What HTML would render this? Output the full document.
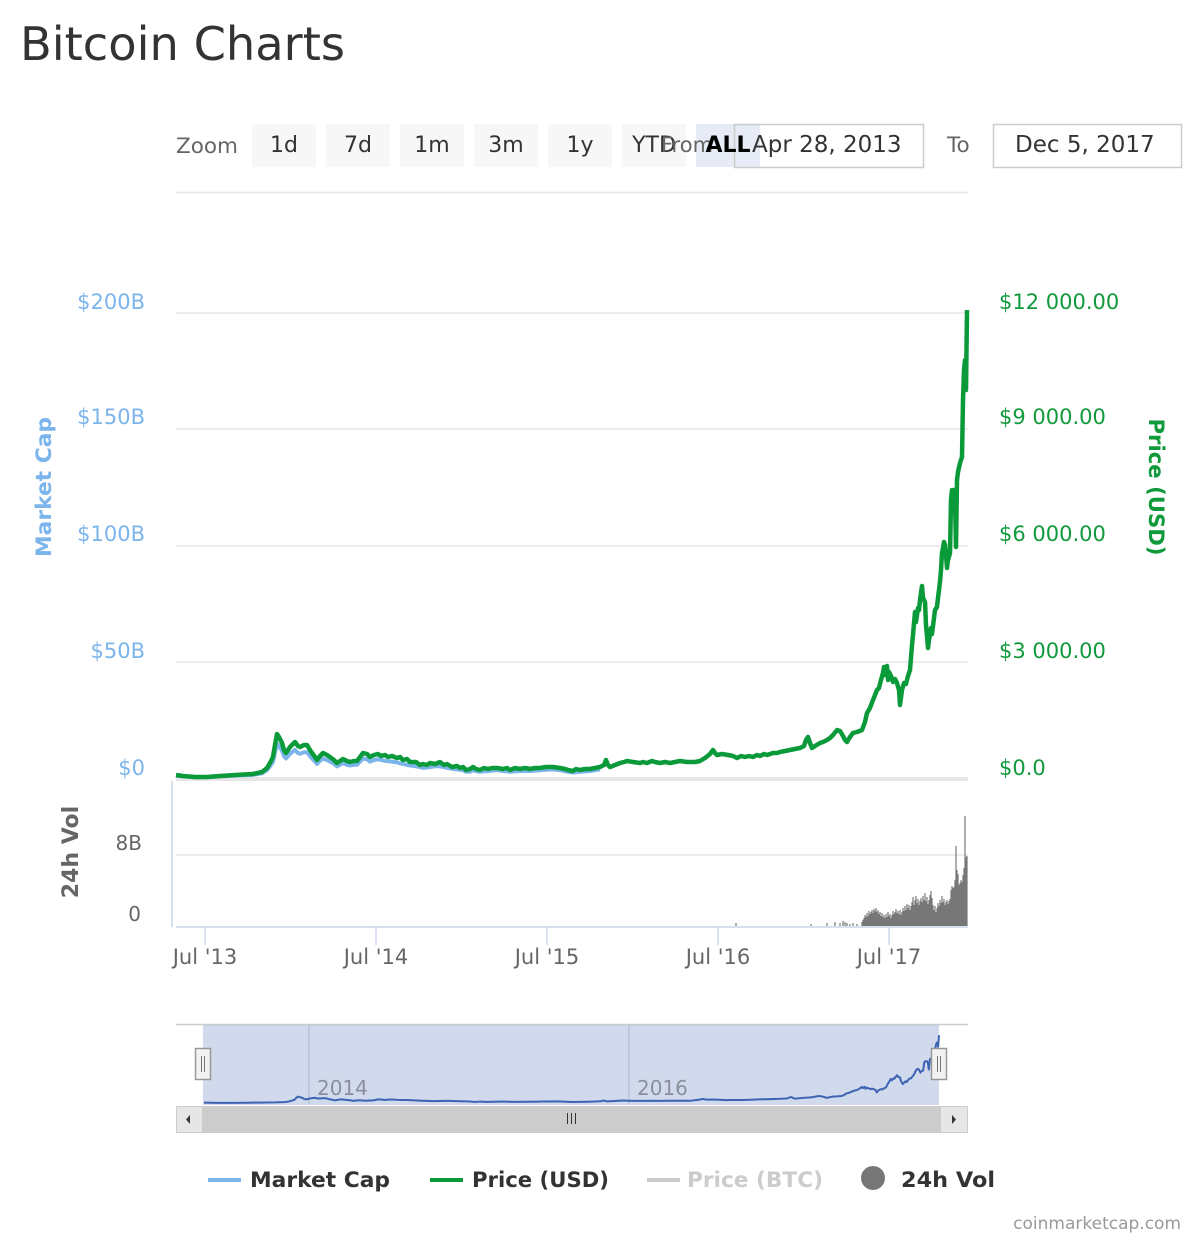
<!DOCTYPE html>
<html>
<head>
<meta charset="utf-8">
<style>
  html,body{margin:0;padding:0;background:#fff;}
  svg{display:block;}
  text{font-family:"DejaVu Sans","Liberation Sans",sans-serif;}
</style>
</head>
<body>
<svg width="1200" height="1240" viewBox="0 0 1200 1240" xmlns="http://www.w3.org/2000/svg">
  <rect x="0" y="0" width="1200" height="1240" fill="#fff"/>

  <!-- Title -->
  <text x="20" y="60" font-size="46" fill="#333" textLength="325" lengthAdjust="spacingAndGlyphs">Bitcoin Charts</text>

  <!-- Toolbar -->
  <text x="176" y="153" font-size="21.5" fill="#666">Zoom</text>
  <g font-size="22" fill="#333" text-anchor="middle">
    <rect x="252" y="124" width="64" height="43" fill="#f7f7f7"/>
    <text x="284" y="152">1d</text>
    <rect x="326" y="124" width="64" height="43" fill="#f7f7f7"/>
    <text x="358" y="152">7d</text>
    <rect x="400" y="124" width="64" height="43" fill="#f7f7f7"/>
    <text x="432" y="152">1m</text>
    <rect x="474" y="124" width="64" height="43" fill="#f7f7f7"/>
    <text x="506" y="152">3m</text>
    <rect x="548" y="124" width="64" height="43" fill="#f7f7f7"/>
    <text x="580" y="152">1y</text>
    <rect x="622" y="124" width="64" height="43" fill="#f7f7f7"/>
    <text x="654" y="152">YTD</text>
    <rect x="696" y="124" width="64" height="43" fill="#e6ebf5"/>
  </g>
  <text x="661" y="152" font-size="21" fill="#666">From</text>
  <rect x="734.5" y="124.5" width="189" height="43" fill="none" stroke="#cccccc" stroke-width="1.5"/>
  <text x="728" y="152" font-size="22" font-weight="bold" fill="#000" text-anchor="middle">ALL</text>
  <text x="752" y="152" font-size="23" fill="#333">Apr 28, 2013</text>
  <text x="947" y="152" font-size="21.5" fill="#666">To</text>
  <rect x="993.5" y="124.5" width="188" height="43" fill="#fff" stroke="#cccccc" stroke-width="1.5"/>
  <text x="1015" y="152" font-size="23" fill="#333">Dec 5, 2017</text>

  <!-- top line -->
  <line x1="176" y1="192.5" x2="968" y2="192.5" stroke="#e6e6e6" stroke-width="1.5"/>

  <!-- grid lines main -->
  <g stroke="#e6e6e6" stroke-width="1.5">
    <line x1="176" y1="313" x2="968" y2="313"/>
    <line x1="176" y1="429" x2="968" y2="429"/>
    <line x1="176" y1="546" x2="968" y2="546"/>
    <line x1="176" y1="662" x2="968" y2="662"/>
  </g>
  <rect x="176" y="777" width="792" height="4" fill="#e6e6e6"/>

  <!-- left axis labels -->
  <g font-size="21" fill="#7cb5ec" text-anchor="end">
    <text x="145" y="309">$200B</text>
    <text x="145" y="424">$150B</text>
    <text x="145" y="541">$100B</text>
    <text x="145" y="658">$50B</text>
    <text x="145" y="775">$0</text>
  </g>
  <text transform="translate(51,487) rotate(-90)" font-size="21" font-weight="bold" fill="#7cb5ec" text-anchor="middle" textLength="140" lengthAdjust="spacingAndGlyphs">Market Cap</text>

  <!-- right axis labels -->
  <g font-size="21" fill="#109a3c">
    <text x="999" y="309">$12 000.00</text>
    <text x="999" y="424">$9 000.00</text>
    <text x="999" y="541">$6 000.00</text>
    <text x="999" y="658">$3 000.00</text>
    <text x="999" y="775">$0.0</text>
  </g>
  <text transform="translate(1149,487) rotate(90)" font-size="21" font-weight="bold" fill="#109a3c" text-anchor="middle" textLength="137" lengthAdjust="spacingAndGlyphs">Price (USD)</text>

  <!-- Market cap (blue) early section -->
  <path transform="translate(0,778) scale(1,0.78) translate(0,-778)" vector-effect="non-scaling-stroke" fill="none" stroke="#7cb5ec" stroke-width="4" stroke-linejoin="round"
    d="M176,775 L183,776 L195,777 L207,777 L220,776 L235,775 L253,774 L262,772 L267,768 L270,763 L273,757 L275,745 L277,734 L279,737 L282,743 L284,750 L286,753 L290,747 L295,742 L298,746 L300,747 L304,745 L307,745 L310,750 L312,753 L315,757 L317,760 L320,756 L323,753 L327,755 L330,757 L334,760 L337,763 L340,761 L343,759 L347,761 L350,762 L354,761 L357,761 L360,757 L363,753 L367,754 L370,757 L374,755 L378,754 L385,756 L392,757 L397,758 L403,760 L410,762 L416,763 L423,765 L430,764 L435,763 L440,763 L447,765 L452,766 L457,767 L463,768 L466,770 L470,770 L473,768 L476,769 L480,770 L488,769 L497,768 L503,769 L510,770 L520,769 L530,769 L540,768 L553,767 L560,768 L568,770 L573,771 L580,770 L590,769 L600,767"/>

  <!-- Price (green) -->
  <path fill="none" stroke="#0b9a3a" stroke-width="4.5" stroke-linejoin="round"
    d="M176,775 L183,776 L195,777 L207,777 L220,776 L235,775 L253,774 L262,772 L267,768 L270,763 L273,757 L275,745 L277,734 L279,737 L282,743 L284,750 L286,753 L290,747 L295,742 L298,746 L300,747 L304,745 L307,745 L310,750 L312,753 L315,757 L317,760 L320,756 L323,753 L327,755 L330,757 L334,760 L337,763 L340,761 L343,759 L347,761 L350,762 L354,761 L357,761 L360,757 L363,753 L367,754 L370,757 L374,755 L378,754 L381,756 L385,755 L388,757 L392,756 L397,758 L400,757 L403,760 L407,759 L410,762 L416,762 L420,765 L423,764 L427,765 L430,763 L435,764 L440,762 L444,765 L447,764 L452,767 L457,766 L460,768 L463,767 L466,770 L470,769 L473,767 L476,769 L480,770 L484,768 L488,769 L492,768 L497,768 L503,769 L507,768 L510,770 L515,768 L520,769 L525,768 L530,769 L535,768 L540,768 L546,767 L553,767 L560,768 L565,769 L568,770 L573,771 L576,769 L580,770 L585,769 L590,769 L595,768 L600,767 L604,765 L606,760 L608,765 L610,767 L615,765 L620,763 L624,762 L627,761 L633,762 L640,763 L643,762 L647,763 L652,761 L655,762 L660,763 L665,762 L670,763 L675,762 L680,761 L687,762 L695,762 L700,761 L705,758 L710,754 L713,750 L715,753 L717,755 L722,754 L728,755 L733,756 L737,758 L741,756 L745,757 L749,756 L753,757 L757,755 L760,756 L764,754 L767,755 L773,753 L777,753 L780,752 L785,751 L790,750 L795,749 L800,748 L804,746 L806,740 L808,737 L810,743 L812,748 L815,746 L820,743 L823,742 L827,740 L830,738 L833,735 L837,730 L840,731 L843,736 L845,740 L847,742 L850,737 L853,733 L857,732 L862,730 L865,722 L867,713 L870,708 L873,700 L875,695 L877,690 L879,688 L881,680 L883,673 L884,667 L885,675 L887,666 L888,680 L889,672 L891,676 L893,682 L895,679 L897,683 L899,690 L900,705 L902,690 L904,683 L906,684 L908,676 L910,670 L912,645 L913,635 L915,612 L916,622 L918,608 L919,610 L920,600 L922,586 L923,598 L925,602 L926,625 L928,648 L929,640 L931,628 L932,634 L934,618 L935,610 L937,607 L938,598 L939,590 L940,582 L941,570 L942,553 L943,548 L944,542 L945,545 L946,555 L947,568 L948,560 L950,553 L951,500 L952,490 L953,491 L954,490 L955,500 L956,547 L957,480 L958,472 L960,463 L962,457 L963,400 L964,370 L965,360 L966,390 L967,310"/>

  <!-- Volume pane -->
  <line x1="172" y1="781" x2="172" y2="927" stroke="#ccd6eb" stroke-width="1.5"/>
  <line x1="176" y1="855" x2="968" y2="855" stroke="#e6e6e6" stroke-width="1.5"/>
  <g font-size="20" fill="#666" text-anchor="end">
    <text x="142" y="850">8B</text>
    <text x="141" y="921">0</text>
  </g>
  <text transform="translate(78,852) rotate(-90)" font-size="22" font-weight="bold" fill="#666" text-anchor="middle">24h Vol</text>

  <path fill="none" stroke="#777" stroke-width="1.2"
    d="M736,926V923 M811,926V924 M827,926V923 M835,926V922 M840,926V923 M843,926V921 M845,926V922 M847,926V923 M850,926V924 M853,926V923 M857,926V924
    M862,926V922 M863,926V920 M864,926V918 M865,926V915 M866,926V917 M867,926V913 M868,926V916 M869,926V911 M870,926V914 M871,926V912 M872,926V910 M873,926V913 M874,926V909 M875,926V911 M876,926V908 M877,926V912 M878,926V910 M879,926V914 M880,926V912 M881,926V916 M882,926V913 M883,926V917 M884,926V915 M885,926V918 M886,926V914 M887,926V917 M888,926V912 M889,926V916 M890,926V914 M891,926V918 M892,926V915 M893,926V911 M894,926V914 M895,926V912 M896,926V909 M897,926V913 M898,926V911 M899,926V914 M900,926V910 M901,926V915 M902,926V912 M903,926V908 M904,926V911 M905,926V906 M906,926V910 M907,926V904 M908,926V908 M909,926V905 M910,926V910 M911,926V906 M912,926V902 M913,926V897 M914,926V905 M915,926V900 M916,926V896 M917,926V903 M918,926V899 M919,926V905 M920,926V901 M921,926V898 M922,926V902 M923,926V896 M924,926V900 M925,926V893 M926,926V901 M927,926V897 M928,926V904 M929,926V900 M930,926V895 M931,926V891 M932,926V898 M933,926V905 M934,926V910 M935,926V906 M936,926V912 M937,926V908 M938,926V903 M939,926V906 M940,926V900 M941,926V903 M942,926V896 M943,926V902 M944,926V899 M945,926V905 M946,926V902 M947,926V900 M948,926V904 M949,926V901 M950,926V899 M951,926V890 M952,926V886 M953,926V888 M954,926V887 M955,926V880 M956,926V846 M957,926V870 M958,926V874 M959,926V885 M960,926V883 M961,926V880 M962,926V882 M963,926V875 M964,926V868 M965,926V816 M966,926V857 M967,926V856"/>

  <!-- x axis -->
  <line x1="176" y1="927" x2="968" y2="927" stroke="#ccd6eb" stroke-width="1.5"/>
  <g stroke="#ccd6eb" stroke-width="1.5">
    <line x1="205" y1="927" x2="205" y2="945"/>
    <line x1="376" y1="927" x2="376" y2="945"/>
    <line x1="547" y1="927" x2="547" y2="945"/>
    <line x1="718" y1="927" x2="718" y2="945"/>
    <line x1="889" y1="927" x2="889" y2="945"/>
  </g>
  <g font-size="21" fill="#666" text-anchor="middle">
    <text x="205" y="964">Jul '13</text>
    <text x="376" y="964">Jul '14</text>
    <text x="547" y="964">Jul '15</text>
    <text x="718" y="964">Jul '16</text>
    <text x="889" y="964">Jul '17</text>
  </g>

  <!-- Navigator -->
  <line x1="176" y1="1024.5" x2="968" y2="1024.5" stroke="#cccccc" stroke-width="1.5"/>
  <rect x="203" y="1025" width="736" height="80" fill="rgba(102,133,194,0.3)"/>
  <g stroke="#b3bdd3" stroke-width="1.2">
    <line x1="309" y1="1025" x2="309" y2="1105"/>
    <line x1="629" y1="1025" x2="629" y2="1105"/>
  </g>
  <g font-size="20" fill="#8a8f99">
    <text x="317" y="1095">2014</text>
    <text x="637" y="1095">2016</text>
  </g>
  <path transform="matrix(0.9293,0,0,0.145,40.4,990.2)" vector-effect="non-scaling-stroke" fill="none" stroke="#3d63b3" stroke-width="2" stroke-linejoin="round"
    d="M176,775 L183,776 L195,777 L207,777 L220,776 L235,775 L253,774 L262,772 L267,768 L270,763 L273,757 L275,745 L277,734 L279,737 L282,743 L284,750 L286,753 L290,747 L295,742 L298,746 L300,747 L304,745 L307,745 L310,750 L312,753 L315,757 L317,760 L320,756 L323,753 L327,755 L330,757 L334,760 L337,763 L340,761 L343,759 L347,761 L350,762 L354,761 L357,761 L360,757 L363,753 L367,754 L370,757 L374,755 L378,754 L385,756 L392,757 L397,758 L403,760 L410,762 L416,763 L423,765 L430,764 L435,763 L440,763 L447,765 L452,766 L457,767 L463,768 L466,770 L470,770 L473,768 L476,769 L480,770 L488,769 L497,768 L503,769 L510,770 L520,769 L530,769 L540,768 L553,767 L560,768 L568,770 L573,771 L580,770 L590,769 L600,767 L604,765 L606,760 L608,765 L610,767 L615,765 L620,763 L627,761 L633,762 L640,763 L647,763 L655,762 L665,763 L675,762 L687,762 L695,762 L700,762 L705,758 L710,754 L713,750 L715,753 L717,755 L722,754 L728,755 L733,756 L737,758 L745,757 L753,757 L760,756 L767,755 L773,753 L780,752 L790,750 L800,748 L804,746 L806,740 L808,737 L810,743 L812,748 L815,746 L820,743 L823,742 L827,740 L830,738 L833,735 L837,730 L840,731 L843,736 L845,740 L847,742 L850,737 L853,733 L857,732 L862,730 L865,722 L867,713 L870,708 L873,700 L875,695 L877,690 L879,688 L881,680 L883,673 L884,667 L885,675 L887,666 L888,680 L889,672 L891,676 L893,682 L895,679 L897,683 L899,690 L900,705 L902,690 L904,683 L906,684 L908,676 L910,670 L912,645 L913,635 L915,612 L916,622 L918,608 L919,610 L920,600 L922,586 L923,598 L925,602 L926,625 L928,648 L929,640 L931,628 L932,634 L934,618 L935,610 L937,607 L938,598 L939,590 L940,582 L941,570 L942,553 L943,548 L944,542 L945,545 L946,555 L947,568 L948,560 L950,553 L951,500 L952,490 L953,491 L954,490 L955,500 L956,547 L957,480 L958,472 L960,463 L962,457 L963,400 L964,370 L965,360 L966,390 L967,310"/>

  <!-- handles -->
  <g>
    <rect x="195.5" y="1048.5" width="15" height="31" fill="#f2f2f2" stroke="#999" stroke-width="1.5"/>
    <line x1="201.5" y1="1056" x2="201.5" y2="1072" stroke="#777" stroke-width="1"/>
    <line x1="204.5" y1="1056" x2="204.5" y2="1072" stroke="#777" stroke-width="1"/>
    <rect x="931.5" y="1048.5" width="15" height="31" fill="#f2f2f2" stroke="#999" stroke-width="1.5"/>
    <line x1="937.5" y1="1056" x2="937.5" y2="1072" stroke="#777" stroke-width="1"/>
    <line x1="940.5" y1="1056" x2="940.5" y2="1072" stroke="#777" stroke-width="1"/>
  </g>

  <!-- scrollbar -->
  <rect x="176" y="1106" width="792" height="27" fill="#f2f2f2"/>
  <rect x="203" y="1106" width="737" height="27" fill="#cccccc"/>
  <rect x="176.5" y="1106.5" width="26" height="26" fill="#e6e6e6" stroke="#cccccc" stroke-width="1"/>
  <rect x="940.5" y="1106.5" width="27" height="26" fill="#e6e6e6" stroke="#cccccc" stroke-width="1"/>
  <path d="M190,1115 L186,1119.5 L190,1124 Z" fill="#333"/>
  <path d="M952,1115 L956,1119.5 L952,1124 Z" fill="#333"/>
  <g stroke="#333" stroke-width="1">
    <line x1="567.5" y1="1113" x2="567.5" y2="1124"/>
    <line x1="571.5" y1="1113" x2="571.5" y2="1124"/>
    <line x1="575.5" y1="1113" x2="575.5" y2="1124"/>
  </g>

  <!-- Legend -->
  <line x1="208" y1="1180" x2="241" y2="1180" stroke="#7cb5ec" stroke-width="4"/>
  <text x="250" y="1187" font-size="21" font-weight="bold" fill="#333" textLength="140" lengthAdjust="spacingAndGlyphs">Market Cap</text>
  <line x1="430" y1="1180" x2="463" y2="1180" stroke="#0b9a3a" stroke-width="4"/>
  <text x="472" y="1187" font-size="21" font-weight="bold" fill="#333" textLength="137" lengthAdjust="spacingAndGlyphs">Price (USD)</text>
  <line x1="647" y1="1180" x2="680" y2="1180" stroke="#cccccc" stroke-width="4"/>
  <text x="687" y="1187" font-size="21" font-weight="bold" fill="#cccccc" textLength="136" lengthAdjust="spacingAndGlyphs">Price (BTC)</text>
  <circle cx="873" cy="1178" r="12" fill="#777"/>
  <text x="901" y="1187" font-size="21" font-weight="bold" fill="#333" textLength="94" lengthAdjust="spacingAndGlyphs">24h Vol</text>

  <text x="1181" y="1229" font-size="17" fill="#999" text-anchor="end">coinmarketcap.com</text>
</svg>
</body>
</html>
